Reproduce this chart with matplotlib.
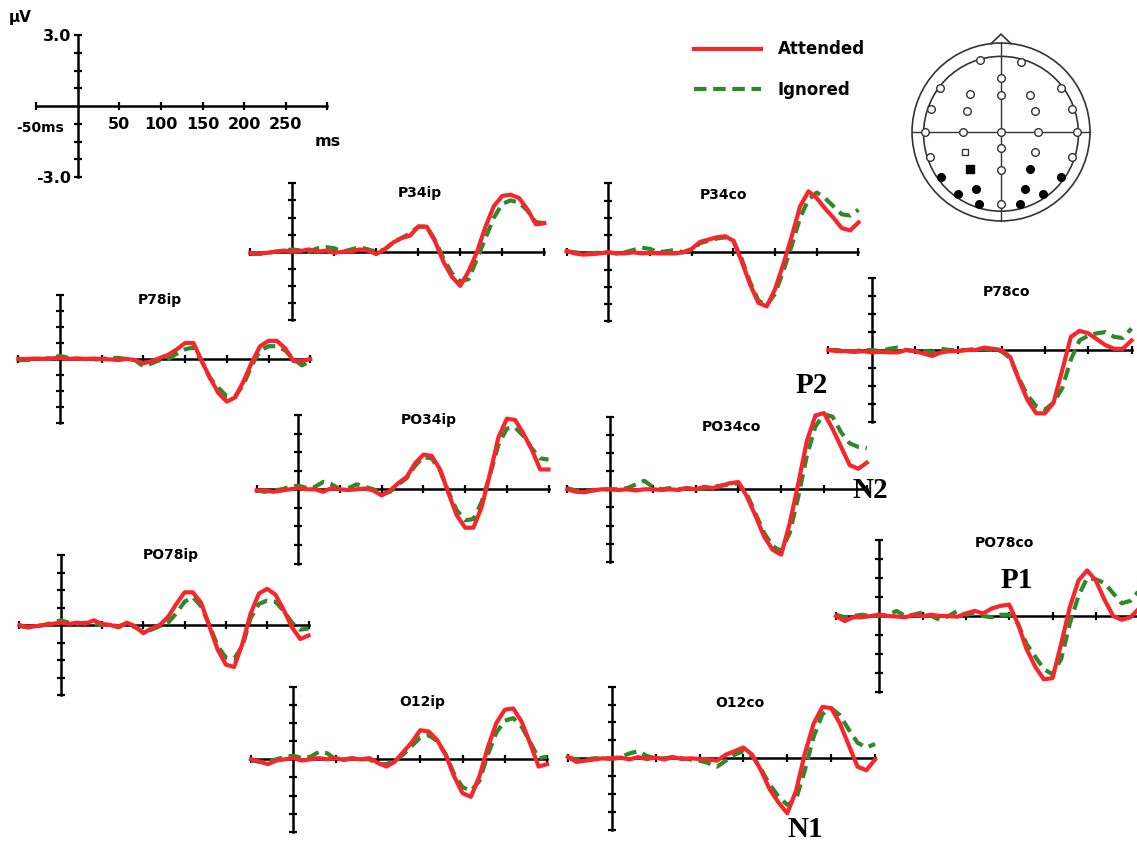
import matplotlib
matplotlib.use("Agg")
import matplotlib.pyplot as plt
import numpy as np

# time axis (ms), one value every 10 ms
t_ms = np.arange(-50, 301, 10)

# amplitudes in microvolts
p34ip_att = [-0.05, -0.08, -0.05, 0.0, 0.05, 0.0, 0.03, 0.1, 0.0, 0.05, -0.05, 0.0, 0.0, 0.1, 0.05, -0.1, 0.1, 0.4,
             0.6, 0.7, 1.1, 1.1, 0.45, -0.45, -1.1, -1.5, -0.85, 0.0, 1.1, 2.0, 2.45, 2.5, 2.35, 1.85, 1.2, 1.25]
p34ip_ign = [-0.1, -0.1, -0.05, 0.0, 0.05, 0.1, 0.05, 0.0, 0.15, 0.2, 0.15, 0.0, 0.1, 0.2, 0.1, 0.0, 0.1, 0.4,
             0.6, 0.8, 1.1, 1.1, 0.5, -0.3, -0.95, -1.3, -1.2, -0.3, 0.6, 1.5, 2.1, 2.25, 2.15, 1.8, 1.3, 1.25]
p34co_att = [0.05, -0.05, -0.1, -0.08, -0.05, 0.0, -0.05, -0.05, 0.0, -0.05, -0.03, -0.05, -0.05, -0.05, 0.0, 0.15,
             0.45, 0.55, 0.65, 0.7, 0.5, -0.4, -1.4, -2.2, -2.35, -1.6, -0.5, 0.7, 2.0, 2.65, 2.35, 1.9, 1.5, 1.05,
             0.95, 1.3]
p34co_ign = [0.05, 0.0, -0.05, -0.05, 0.0, 0.0, -0.05, 0.0, 0.1, 0.2, 0.15, 0.0, 0.05, 0.1, 0.0, 0.1, 0.4, 0.5,
             0.6, 0.65, 0.5, -0.3, -1.3, -2.1, -2.3, -1.8, -0.8, 0.3, 1.5, 2.3, 2.6, 2.35, 2.0, 1.65, 1.6, 1.85]
p78ip_att = [0.0, 0.0, 0.02, 0.0, 0.03, 0.05, 0.0, 0.03, 0.0, 0.02, 0.0, -0.02, -0.05, 0.0, -0.05, -0.2, -0.1, 0.05,
             0.2, 0.45, 0.75, 0.75, -0.1, -0.9, -1.6, -2.0, -1.8, -1.05, -0.15, 0.6, 0.85, 0.85, 0.5, -0.1, -0.1, 0.0]
p78ip_ign = [-0.05, -0.05, 0.0, 0.0, 0.05, 0.15, 0.05, 0.0, 0.0, -0.03, 0.0, 0.05, 0.05, 0.0, -0.05, -0.35, -0.2,
             -0.05, 0.0, 0.25, 0.45, 0.55, -0.1, -0.9, -1.35, -1.75, -1.75, -1.2, -0.3, 0.4, 0.6, 0.6, 0.4, 0.0,
             -0.3, -0.1]
p78co_att = [0.0, -0.05, -0.05, -0.08, -0.05, -0.1, -0.08, -0.1, -0.1, 0.0, -0.05, -0.15, -0.25, -0.1, -0.05, -0.05,
             0.0, 0.0, 0.1, 0.05, 0.0, -0.3, -1.25, -2.1, -2.65, -2.65, -2.2, -0.85, 0.55, 0.8, 0.7, 0.45, 0.2, 0.05,
             0.05, 0.4]
p78co_ign = [0.0, 0.0, -0.05, -0.05, 0.0, 0.0, -0.05, 0.05, 0.1, 0.0, -0.05, -0.05, -0.1, 0.05, 0.0, 0.0, 0.0, 0.05,
             0.05, 0.0, -0.05, -0.35, -1.2, -1.9, -2.35, -2.5, -2.2, -1.6, -0.4, 0.4, 0.6, 0.7, 0.75, 0.55, 0.5, 0.9]
po34ip_att = [-0.05, -0.05, -0.1, -0.05, 0.0, 0.05, 0.0, 0.0, -0.1, 0.05, 0.0, -0.03, 0.0, 0.03, -0.05, -0.25,
              -0.05, 0.25, 0.5, 1.05, 1.4, 1.35, 0.8, -0.15, -1.05, -1.55, -1.55, -0.7, 0.65, 2.1, 2.85, 2.8, 2.25,
              1.6, 0.8, 0.8]
po34ip_ign = [-0.05, -0.1, -0.05, 0.0, 0.1, 0.15, 0.05, 0.1, 0.3, 0.2, 0.0, 0.05, 0.2, 0.1, 0.0, -0.2, -0.1, 0.2,
              0.45, 0.95, 1.3, 1.25, 0.75, -0.1, -0.85, -1.25, -1.2, -0.5, 0.6, 1.8, 2.45, 2.5, 2.15, 1.65, 1.25, 1.2]
po34co_att = [0.0, -0.1, -0.12, -0.05, 0.0, 0.0, -0.03, 0.0, -0.05, 0.0, 0.0, -0.03, 0.0, -0.03, 0.05, 0.0, 0.1,
              0.05, 0.15, 0.25, 0.3, -0.3, -1.1, -1.95, -2.5, -2.7, -1.4, 0.25, 2.0, 3.05, 3.15, 2.5, 1.75, 1.0,
              0.85, 1.1]
po34co_ign = [0.05, -0.05, -0.1, -0.05, 0.0, 0.0, 0.0, 0.05, 0.2, 0.35, 0.1, 0.0, 0.05, 0.0, 0.05, 0.0, 0.05, 0.1,
              0.15, 0.2, 0.25, -0.2, -1.0, -1.8, -2.35, -2.55, -1.8, -0.3, 1.4, 2.6, 3.1, 3.0, 2.35, 1.9, 1.75, 1.7]
po78ip_att = [0.0, -0.1, -0.05, 0.0, 0.05, 0.1, 0.05, 0.1, 0.05, 0.2, 0.05, 0.0, -0.1, 0.1, -0.05, -0.35, -0.15,
              0.0, 0.35, 0.9, 1.4, 1.4, 0.95, -0.05, -1.05, -1.7, -1.8, -0.8, 0.5, 1.35, 1.55, 1.3, 0.65, -0.1,
              -0.6, -0.45]
po78ip_ign = [-0.05, -0.1, -0.05, 0.0, 0.1, 0.2, 0.1, 0.05, 0.1, 0.05, 0.0, 0.0, -0.05, 0.05, -0.1, -0.3, -0.2,
              -0.05, 0.1, 0.5, 1.0, 1.2, 0.8, 0.0, -0.9, -1.4, -1.45, -0.9, 0.3, 0.9, 1.05, 1.0, 0.6, 0.1, -0.2, -0.15]
po78co_att = [0.0, -0.2, -0.05, -0.05, 0.0, 0.05, 0.0, -0.02, -0.05, 0.05, 0.0, 0.05, 0.0, 0.0, -0.03, 0.1, 0.2,
              0.1, 0.3, 0.4, 0.45, -0.3, -1.3, -2.0, -2.5, -2.45, -1.1, 0.35, 1.4, 1.8, 1.4, 0.65, 0.0, -0.15,
              -0.05, 0.3]
po78co_ign = [0.05, -0.05, 0.0, 0.05, 0.0, 0.0, 0.05, 0.2, 0.0, 0.05, 0.15, 0.0, -0.15, 0.0, 0.2, 0.05, 0.1, 0.0,
              -0.05, 0.05, 0.05, -0.3, -1.1, -1.6, -2.1, -2.3, -1.7, -0.3, 0.8, 1.5, 1.45, 1.3, 0.9, 0.5, 0.6, 1.0]
o12ip_att = [0.0, -0.1, -0.2, -0.05, 0.0, 0.05, -0.05, 0.0, 0.05, 0.0, 0.05, -0.03, 0.03, 0.0, 0.05, -0.15, -0.3,
             -0.1, 0.3, 0.7, 1.2, 1.15, 0.8, 0.2, -0.7, -1.4, -1.55, -0.7, 0.5, 1.5, 2.05, 2.1, 1.55, 0.65, -0.3,
             -0.2]
o12ip_ign = [-0.05, -0.1, -0.1, 0.0, 0.1, 0.15, 0.05, 0.1, 0.3, 0.25, 0.0, 0.0, 0.05, 0.0, 0.0, -0.2, -0.2, -0.05,
             0.2, 0.55, 0.9, 1.0, 0.75, 0.2, -0.6, -1.15, -1.3, -0.9, 0.2, 1.1, 1.6, 1.7, 1.35, 0.7, 0.05, 0.1]
o12co_att = [0.05, -0.15, -0.1, -0.05, 0.0, -0.03, 0.03, -0.05, 0.05, -0.03, 0.03, -0.05, 0.05, -0.03, 0.0, -0.03,
             -0.05, -0.1, 0.15, 0.3, 0.45, 0.15, -0.5, -1.3, -1.85, -2.3, -1.35, 0.2, 1.45, 2.15, 2.1, 1.45, 0.55,
             -0.35, -0.5, -0.05]
o12co_ign = [0.05, -0.05, -0.05, 0.0, 0.0, 0.0, 0.05, 0.2, 0.3, 0.1, 0.0, 0.0, 0.05, 0.0, -0.05, -0.1, -0.2, -0.35,
             -0.1, 0.15, 0.3, 0.1, -0.45, -1.1, -1.6, -1.95, -1.7, -0.5, 0.9, 1.85, 2.1, 1.8, 1.2, 0.65, 0.45, 0.6]

channels = ["P34ip", "P34co", "P78ip", "P78co", "PO34ip", "PO34co", "PO78ip", "PO78co", "O12ip", "O12co"]
attended = [p34ip_att, p34co_att, p78ip_att, p78co_att, po34ip_att, po34co_att, po78ip_att, po78co_att,
            o12ip_att, o12co_att]
ignored = [p34ip_ign, p34co_ign, p78ip_ign, p78co_ign, po34ip_ign, po34co_ign, po78ip_ign, po78co_ign,
           o12ip_ign, o12co_ign]

# scale bar tick labels
scale_x_ticks = [-50, 50, 100, 150, 200, 250, 300]
scale_x_labels = ["", "50", "100", "150", "200", "250", ""]
scale_y_ticks = [-3, -2.25, -1.5, -0.75, 0.75, 1.5, 2.25, 3]
scale_y_labels = ["-3.0", "", "", "", "", "", "", "3.0"]

# electrode map (unit head radius)
elec_open_x = [-0.24, 0.22, 0.0, -0.69, 0.67, -0.35, 0.0, 0.33, -0.79, -0.38, 0.38, 0.80, -0.85, -0.43, 0.0, 0.42,
               0.85, -0.80, 0.0, 0.38, 0.80, 0.0, 0.0]
elec_open_y = [0.81, 0.79, 0.61, 0.49, 0.49, 0.43, 0.42, 0.42, 0.26, 0.24, 0.24, 0.26, 0.0, 0.0, 0.0, 0.0, 0.0,
               -0.28, -0.18, -0.22, -0.28, -0.43, -0.81]
elec_sel_x = [0.33, -0.67, 0.67, -0.28, 0.27, -0.48, 0.47, -0.25, 0.21]
elec_sel_y = [-0.42, -0.51, -0.51, -0.64, -0.64, -0.70, -0.70, -0.81, -0.81]

# layout: y-axis x pixel, zero-line y pixel, px per 50 ms, px per 3 uV
W, H = 1137, 842
layout = [(292.3, 251.7, 42.0, 68.4), (608.3, 252.3, 41.7, 69.0), (60.0, 359.0, 41.7, 64.0),
          (871.7, 350.0, 43.3, 71.7), (298.3, 489.3, 41.7, 74.3), (610.0, 489.3, 42.8, 72.6),
          (60.7, 625.0, 41.3, 70.0), (879.3, 616.0, 43.3, 76.0), (293.3, 759.3, 42.3, 72.6),
          (611.7, 758.3, 43.9, 71.7)]
label_pos = [(152, 2.56), (138, 2.49), (120, 2.77), (156, 2.44), (156, 2.8), (142, 2.59), (133, 3.0),
             (145, 2.87), (152, 2.38), (146, 2.3)]

RED = "#f8262a"
GREEN = "#2d8a2a"
XL = (-60, 310)
YL = 4.6


def make_panel(x0, y0, px50, px3):
    sx = px50 / 50.0
    sy = px3 / 3.0
    left = x0 + XL[0] * sx
    width = (XL[1] - XL[0]) * sx
    top = y0 - YL * sy
    height = 2 * YL * sy
    ax = fig.add_axes([left / W, 1 - (top + height) / H, width / W, height / H])
    ax.set_xlim(*XL)
    ax.set_ylim(-YL, YL)
    ax.patch.set_alpha(0)
    for s in ["top", "right"]:
        ax.spines[s].set_visible(False)
    ax.spines["left"].set_position(("data", 0))
    ax.spines["bottom"].set_position(("data", 0))
    ax.spines["left"].set_bounds(-3, 3)
    ax.spines["bottom"].set_bounds(-50, 300)
    for s in ["left", "bottom"]:
        ax.spines[s].set_linewidth(1.8)
    ax.set_xticks(scale_x_ticks)
    ax.set_yticks(scale_y_ticks)
    ax.tick_params(direction="inout", length=6, width=1.6, labelbottom=False, labelleft=False)
    return ax


fig = plt.figure(figsize=(W / 100, H / 100), dpi=100)

# scale axis, top left
sax = make_panel(77.7, 106.0, 41.6, 71.0)
sax.tick_params(axis="x", labelbottom=True, pad=5)
sax.tick_params(axis="y", labelleft=True, pad=2)
sax.set_xticklabels(scale_x_labels, fontsize=11.5, fontweight="bold")
sax.set_yticklabels(scale_y_labels, fontsize=11.5, fontweight="bold")
sax.text(-45, -0.95, "-50ms", fontsize=10, fontweight="bold", ha="center", va="center")
sax.text(300, -1.5, "ms", fontsize=11.5, fontweight="bold", ha="center", va="center")
sax.text(-69, 3.75, "µV", fontsize=11, fontweight="bold", ha="center", va="center", clip_on=False)

axes = []
for i, name in enumerate(channels):
    ax = make_panel(*layout[i])
    ax.plot(t_ms, ignored[i], color=GREEN, lw=3.0, ls=(0, (3, 1.6)), zorder=3, label="Ignored")
    ax.plot(t_ms, attended[i], color=RED, lw=3.0, zorder=4, label="Attended", solid_joinstyle="round")
    ax.text(label_pos[i][0], label_pos[i][1], name, fontsize=10, fontweight="bold", ha="center", va="center")
    axes.append(ax)

# component labels
comp_font = dict(family="Liberation Serif", fontsize=21, fontweight="bold", ha="center", va="center",
                 clip_on=False, zorder=6)
axes[5].text(236, 4.3, "P2", **comp_font)
axes[5].text(304, -0.05, "N2", **comp_font)
axes[7].text(159, 1.42, "P1", **comp_font)
axes[9].text(220, -3.0, "N1", **comp_font)

# legend
h, l = axes[0].get_legend_handles_labels()
fig.legend([h[1], h[0]], [l[1], l[0]], loc="upper left", bbox_to_anchor=(686 / W, 1 - 32 / H),
           frameon=False, handlelength=4.0, handletextpad=1.0, labelspacing=1.35, borderpad=0,
           prop=dict(size=12, weight="bold"))

# head diagram
hax = fig.add_axes([901 / W, 1 - 232 / H, 200 / W, 200 / H])
hax.set_xlim(-1.124, 1.124)
hax.set_ylim(-1.124, 1.124)
hax.set_aspect("equal")
hax.axis("off")
hax.add_patch(plt.Circle((0, 0), 1.0, fill=False, lw=1.2, ec="#333333"))
hax.add_patch(plt.Circle((0, -0.02), 0.87, fill=False, lw=1.2, ec="#333333"))
hax.add_patch(plt.Polygon([[-0.12, 0.985], [0.0, 1.1], [0.12, 0.985]], closed=False, fill=False, lw=1.2,
                          ec="#333333"))
hax.plot([-1, 1], [0, 0], color="#333333", lw=1.0)
hax.plot([0, 0], [-1, 1], color="#333333", lw=1.0)
hax.plot(elec_open_x, elec_open_y, "o", ms=5.5, mfc="white", mec="#333333", mew=1.0, ls="none", zorder=3)
hax.plot([-0.40], [-0.22], "s", ms=5, mfc="white", mec="#333333", mew=1.0, ls="none", zorder=3)
hax.plot(elec_sel_x, elec_sel_y, "o", ms=5.5, mfc="black", mec="black", ls="none", zorder=3)
hax.plot([-0.35], [-0.42], "s", ms=5.5, mfc="black", mec="black", ls="none", zorder=3)

fig.savefig("out.png", dpi=100)
